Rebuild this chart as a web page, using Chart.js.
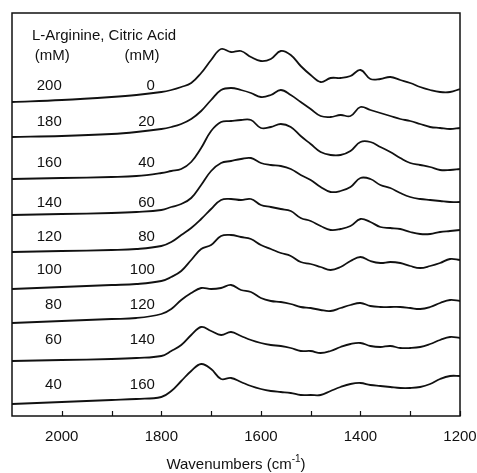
<!DOCTYPE html>
<html>
<head>
<meta charset="utf-8">
<script src="https://cdn.jsdelivr.net/npm/chart.js@4.4.1/dist/chart.umd.min.js"></script>
<style>
  html, body { margin: 0; padding: 0; background: #fff; }
</style>
</head>
<body>
<canvas id="chartFtir" width="477" height="473"></canvas>
<script>
// FTIR spectra of L-Arginine / Citric Acid mixtures (stacked, arbitrary units)

const wavenumbers = [2100, 2000, 1900, 1850, 1800, 1780, 1760, 1740, 1720, 1700, 1680, 1660,
  1640, 1620, 1600, 1580, 1560, 1540, 1520, 1500, 1480, 1460, 1440, 1420, 1400, 1380,
  1360, 1340, 1320, 1300, 1280, 1260, 1240, 1220, 1200];

const arginine = [200, 180, 160, 140, 120, 100, 80, 60, 40];
const citric   = [0, 20, 40, 60, 80, 100, 120, 140, 160];

// vertical offset of each trace in the stack
const offsets = [314, 279, 237, 201, 164, 127, 93, 55, 12];

// absorbance of each mixture above its own offset
const spec200_0   = [0, 2, 5, 7, 10, 12, 15, 19, 29, 42, 53, 50, 51, 45, 41, 43, 51, 47, 36, 27, 20, 24, 24, 26, 32, 23, 23, 25, 22, 19, 15, 12, 10, 10, 13];
const spec180_20  = [0, 1, 3, 5, 8, 10, 13, 18, 26, 37, 47, 49, 47, 44, 40, 42, 47, 42, 35, 28, 21, 20, 22, 21, 30, 27, 24, 21, 18, 16, 13, 10, 9, 8, 9];
const spec160_40  = [0, 1, 2, 3, 6, 8, 10, 17, 31, 48, 57, 58, 59, 59, 51, 52, 55, 52, 43, 35, 27, 24, 24, 28, 37, 37, 32, 27, 21, 16, 14, 12, 9, 9, 10];
const spec140_60  = [0, 1, 2, 3, 5, 8, 11, 17, 30, 44, 52, 54, 56, 57, 52, 50, 49, 46, 40, 35, 28, 23, 24, 28, 37, 36, 30, 27, 22, 18, 16, 15, 14, 13, 13];
const spec120_80  = [0, 1, 2, 3, 6, 10, 17, 24, 33, 43, 52, 53, 52, 53, 47, 45, 43, 41, 34, 31, 26, 22, 23, 26, 33, 30, 25, 24, 23, 20, 18, 18, 20, 21, 22];
const spec100_100 = [0, 2, 4, 5, 8, 12, 18, 29, 40, 44, 53, 54, 52, 50, 44, 40, 36, 33, 27, 25, 22, 19, 22, 28, 32, 28, 26, 27, 26, 23, 21, 23, 26, 30, 29];
const spec80_120  = [0, 2, 4, 5, 9, 14, 23, 30, 35, 34, 35, 38, 33, 31, 25, 22, 21, 19, 16, 15, 13, 12, 15, 18, 20, 17, 16, 16, 16, 15, 14, 16, 20, 23, 22];
const spec60_140  = [0, 1, 2, 3, 5, 10, 16, 26, 34, 30, 26, 29, 25, 21, 18, 16, 15, 13, 10, 10, 8, 10, 14, 17, 18, 15, 14, 15, 13, 13, 14, 17, 21, 24, 23];
const spec40_160  = [0, 2, 4, 5, 7, 13, 23, 33, 40, 35, 25, 26, 22, 18, 15, 13, 12, 11, 9, 9, 9, 13, 17, 20, 21, 19, 18, 17, 16, 16, 17, 20, 25, 28, 28];

const spectra = [spec200_0, spec180_20, spec160_40, spec140_60, spec120_80,
  spec100_100, spec80_120, spec60_140, spec40_160];

const tickValues  = [2000, 1800, 1600, 1400, 1200];
const minorTicks  = [1900, 1700, 1500, 1300];

const INK  = '#111';
const FONT = '"Liberation Sans", Arial, sans-serif';

// ── marco, marcas interiores y textos ──────────────────────
const frameAndText = {
  id: 'frameAndText',
  afterDraw(chart) {
    const { ctx, chartArea: a, scales: { x, y } } = chart;
    ctx.save();
    ctx.strokeStyle = INK;
    ctx.lineWidth = 1.5;
    ctx.strokeRect(a.left, a.top, a.right - a.left, a.bottom - a.top);

    ctx.lineWidth = 1.2;
    [...tickValues, ...minorTicks].forEach(v => {
      const px = Math.round(x.getPixelForValue(v)) + 0.5;
      ctx.beginPath();
      ctx.moveTo(px, a.bottom);
      ctx.lineTo(px, a.bottom - 5);
      ctx.stroke();
    });

    ctx.fillStyle = INK;
    ctx.font = `15px ${FONT}`;
    ctx.textBaseline = 'middle';

    // etiquetas del eje x
    ctx.textAlign = 'center';
    tickValues.forEach(v => ctx.fillText(String(v), x.getPixelForValue(v), a.bottom + 21));

    ctx.textAlign = 'left';
    ctx.fillText('L-Arginine, Citric Acid', x.getPixelForValue(2060), y.getPixelForValue(380));
    ctx.textAlign = 'center';
    ctx.fillText('(mM)', x.getPixelForValue(2019), y.getPixelForValue(360));
    ctx.fillText('(mM)', x.getPixelForValue(1839), y.getPixelForValue(360));

    const rowY = [330, 294, 253, 213, 179, 146, 111, 76, 31];
    ctx.textAlign = 'right';
    arginine.forEach((v, i) => {
      ctx.fillText(String(v), x.getPixelForValue(2000), y.getPixelForValue(rowY[i]));
      ctx.fillText(String(citric[i]), x.getPixelForValue(1813), y.getPixelForValue(rowY[i]));
    });

    // título del eje con superíndice
    const main = 'Wavenumbers (cm', sup = '-1', tail = ')';
    ctx.font = `15px ${FONT}`;
    const w1 = ctx.measureText(main).width, w3 = ctx.measureText(tail).width;
    ctx.font = `10px ${FONT}`;
    const w2 = ctx.measureText(sup).width;
    const sx = (a.left + a.right) / 2 - (w1 + w2 + w3) / 2;
    const ty = 465;
    ctx.textAlign = 'left';
    ctx.font = `15px ${FONT}`;
    ctx.fillText(main, sx, ty);
    ctx.font = `10px ${FONT}`;
    ctx.fillText(sup, sx + w1, ty - 6);
    ctx.font = `15px ${FONT}`;
    ctx.fillText(tail, sx + w1 + w2, ty);
    ctx.restore();
  }
};

new Chart(document.getElementById('chartFtir'), {
  type: 'line',
  data: {
    datasets: spectra.map((s, i) => ({
      label: `${arginine[i]} / ${citric[i]} mM`,
      data: wavenumbers.map((w, j) => ({ x: w, y: offsets[i] + s[j] })),
      borderColor: INK,
      borderWidth: 1.8,
      pointRadius: 0,
      tension: 0.4,
      fill: false
    }))
  },
  options: {
    responsive: false,
    animation: false,
    devicePixelRatio: 1,
    layout: { padding: { left: 12, right: 17, top: 13, bottom: 57 } },
    plugins: { legend: { display: false }, tooltip: { enabled: false } },
    scales: {
      x: { type: 'linear', reverse: true, min: 1200, max: 2100, display: false },
      y: { display: false, min: 0, max: 403 }
    }
  },
  plugins: [frameAndText]
});
</script>
</body>
</html>
